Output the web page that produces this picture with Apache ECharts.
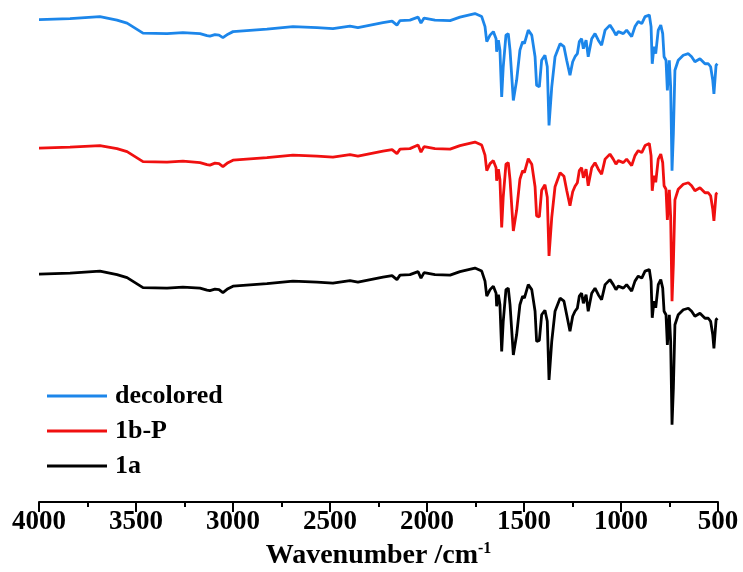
<!DOCTYPE html>
<html>
<head>
<meta charset="utf-8">
<script src="https://cdn.jsdelivr.net/npm/echarts@6/dist/echarts.min.js"></script>
<style>
  html, body { margin: 0; padding: 0; background: #fff; }
  #chart { width: 743px; height: 572px; }
</style>
</head>
<body>
<div id="chart"></div>
<script>
// FT-IR spectra, offset vertically (transmittance, arbitrary units)
const wavenumbers = [
  4000, 3840, 3686, 3598, 3546, 3505, 3464, 3340, 3258, 3170,
  3134, 3119, 3093, 3072, 3052, 3026, 3000, 2825, 2691, 2567,
  2485, 2397, 2356, 2227, 2180, 2155, 2139, 2088, 2046, 2031,
  2015, 1959, 1881, 1830, 1753, 1718, 1701, 1692, 1675, 1658,
  1644, 1641, 1632, 1624, 1615, 1607, 1593, 1581, 1572, 1555,
  1538, 1521, 1507, 1498, 1478, 1460, 1443, 1435, 1421, 1409,
  1392, 1380, 1371, 1357, 1340, 1314, 1294, 1280, 1263, 1249,
  1237, 1225, 1215, 1203, 1194, 1180, 1169, 1151, 1134, 1117,
  1100, 1082, 1057, 1040, 1026, 1014, 988, 971, 945, 928,
  911, 893, 876, 854, 845, 839, 830, 821, 808, 795,
  785, 778, 768, 761, 751, 744, 737, 730, 722, 705,
  679, 653, 636, 619, 593, 567, 550, 538, 527, 521,
  510, 503
];

const decolored = [
  96.1, 96.3, 96.7, 96.0, 95.4, 94.4, 93.4, 93.3, 93.5, 93.3,
  92.9, 92.8, 93.1, 93.0, 92.5, 93.2, 93.7, 94.2, 94.7, 94.5,
  94.3, 94.8, 94.5, 95.5, 95.8, 95.0, 95.9, 96.0, 96.6, 95.4,
  96.4, 96.0, 95.9, 96.6, 97.3, 96.7, 94.7, 91.7, 93.0, 93.7,
  92.3, 89.7, 92.0, 90.0, 80.7, 86.7, 93.0, 93.3, 90.0, 80.0,
  84.0, 90.0, 91.7, 91.3, 94.0, 93.0, 88.7, 83.0, 82.7, 88.0,
  89.0, 86.7, 75.0, 82.7, 88.7, 91.3, 90.7, 88.0, 85.0, 87.7,
  88.7, 89.3, 91.7, 92.3, 90.3, 92.0, 88.7, 92.3, 93.3, 92.0,
  91.0, 94.0, 95.0, 94.0, 93.0, 93.7, 93.3, 94.0, 92.7, 94.7,
  95.7, 95.3, 96.7, 97.0, 94.7, 87.3, 90.7, 89.3, 94.0, 95.0,
  93.3, 88.7, 88.0, 82.0, 88.0, 82.7, 66.0, 73.4, 86.0, 88.0,
  89.0, 89.3, 88.7, 87.7, 88.3, 87.3, 87.3, 86.7, 84.0, 81.3,
  87.0, 87.3
];

const sample1bP = [
  70.5, 70.7, 71.0, 70.4, 69.8, 68.8, 67.8, 67.7, 67.9, 67.6,
  67.2, 67.1, 67.5, 67.4, 66.8, 67.6, 68.1, 68.6, 69.1, 68.9,
  68.7, 69.2, 68.9, 69.9, 70.2, 69.4, 70.3, 70.4, 71.1, 69.7,
  70.8, 70.4, 70.3, 71.0, 71.7, 71.1, 69.1, 66.0, 67.4, 68.0,
  66.6, 64.0, 66.3, 64.2, 54.7, 60.8, 67.3, 67.6, 64.2, 54.0,
  58.1, 64.3, 66.0, 65.6, 68.4, 67.3, 62.8, 57.0, 56.8, 62.1,
  63.2, 60.7, 49.0, 56.7, 62.8, 65.6, 64.9, 62.1, 59.0, 61.8,
  62.9, 63.6, 66.0, 66.6, 64.6, 66.3, 63.0, 66.6, 67.6, 66.3,
  65.3, 68.3, 69.3, 68.3, 67.3, 68.0, 67.6, 68.3, 67.0, 69.0,
  70.0, 69.6, 71.0, 71.4, 69.0, 62.0, 65.0, 63.7, 68.3, 69.3,
  67.6, 63.0, 62.3, 56.2, 62.2, 56.8, 40.0, 47.4, 60.2, 62.3,
  63.3, 63.6, 63.0, 62.0, 62.6, 61.6, 61.6, 61.0, 58.3, 56.0,
  61.4, 61.6
];

const sample1a = [
  45.4, 45.6, 46.0, 45.3, 44.7, 43.7, 42.7, 42.6, 42.8, 42.6,
  42.2, 42.1, 42.4, 42.3, 41.7, 42.5, 43.0, 43.5, 44.0, 43.8,
  43.6, 44.1, 43.8, 44.8, 45.1, 44.3, 45.2, 45.3, 45.9, 44.6,
  45.7, 45.3, 45.2, 45.9, 46.6, 46.0, 44.0, 41.0, 42.3, 43.0,
  41.6, 39.0, 41.3, 39.3, 30.0, 36.0, 42.3, 42.6, 39.3, 29.3,
  33.3, 39.3, 41.0, 40.6, 43.3, 42.3, 38.0, 32.0, 32.2, 37.3,
  38.2, 36.0, 24.3, 32.0, 38.0, 40.6, 40.0, 37.3, 34.0, 37.0,
  38.0, 38.6, 41.0, 41.6, 39.6, 41.3, 38.0, 41.6, 42.6, 41.3,
  40.3, 43.3, 44.3, 43.3, 42.3, 43.0, 42.6, 43.3, 42.0, 44.0,
  45.0, 44.6, 46.0, 46.3, 44.0, 36.7, 40.0, 38.7, 43.3, 44.3,
  42.6, 38.0, 37.3, 31.3, 37.3, 32.0, 15.4, 22.7, 35.3, 37.3,
  38.3, 38.6, 38.0, 37.0, 37.6, 36.6, 36.6, 36.0, 33.3, 30.6,
  36.3, 36.6
];

const seriesNames = ['decolored', '1b-P', '1a'];
const seriesColors = ['#1c86ea', '#f01010', '#000000'];
const seriesValues = [decolored, sample1bP, sample1a];

const FONT = '"Liberation Serif", "Times New Roman", serif';

function pairs(values) {
  return wavenumbers.map((w, i) => [w, values[i]]);
}

const chart = echarts.init(document.getElementById('chart'), null, { renderer: 'canvas' });

chart.setOption({
  backgroundColor: '#ffffff',
  animation: false,
  grid: {
    left: 39, right: 25, top: 0, bottom: 70,
    containLabel: false,
    outerBoundsMode: 'none'
  },
  legend: {
    orient: 'vertical',
    left: 42,
    top: 378,
    itemWidth: 60,
    itemHeight: 3,
    itemGap: 9,
    icon: 'rect',
    data: seriesNames,
    textStyle: {
      fontFamily: FONT,
      fontWeight: 'bold',
      fontSize: 26,
      color: '#000',
      lineHeight: 26,
      padding: [0, 0, 0, 3]
    }
  },
  xAxis: {
    type: 'value',
    inverse: true,
    min: 500,
    max: 4000,
    interval: 500,
    name: 'Wavenumber /cm{sup|-1}',
    nameLocation: 'middle',
    nameGap: 39,
    nameTextStyle: {
      fontFamily: FONT,
      fontWeight: 'bold',
      fontSize: 28,
      color: '#000',
      rich: {
        sup: {
          fontFamily: FONT,
          fontWeight: 'bold',
          fontSize: 16,
          color: '#000',
          verticalAlign: 'top',
          padding: [0, 0, 14, 0]
        }
      }
    },
    axisLine: { show: true, onZero: false, lineStyle: { color: '#000', width: 2 } },
    axisTick: { show: true, inside: false, length: 10, lineStyle: { color: '#000', width: 2 } },
    minorTick: { show: true, splitNumber: 2, length: 5, lineStyle: { color: '#000', width: 2 } },
    axisLabel: {
      fontFamily: FONT,
      fontWeight: 'bold',
      fontSize: 27,
      color: '#000',
      margin: 7,
      formatter: (v) => String(v)
    },
    splitLine: { show: false }
  },
  yAxis: {
    type: 'value',
    min: 0,
    max: 100,
    show: false
  },
  series: seriesNames.map((name, i) => ({
    name: name,
    type: 'line',
    data: pairs(seriesValues[i]),
    showSymbol: false,
    symbol: 'none',
    smooth: false,
    lineStyle: { color: seriesColors[i], width: 2.8 },
    itemStyle: { color: seriesColors[i] }
  }))
});
</script>
</body>
</html>
